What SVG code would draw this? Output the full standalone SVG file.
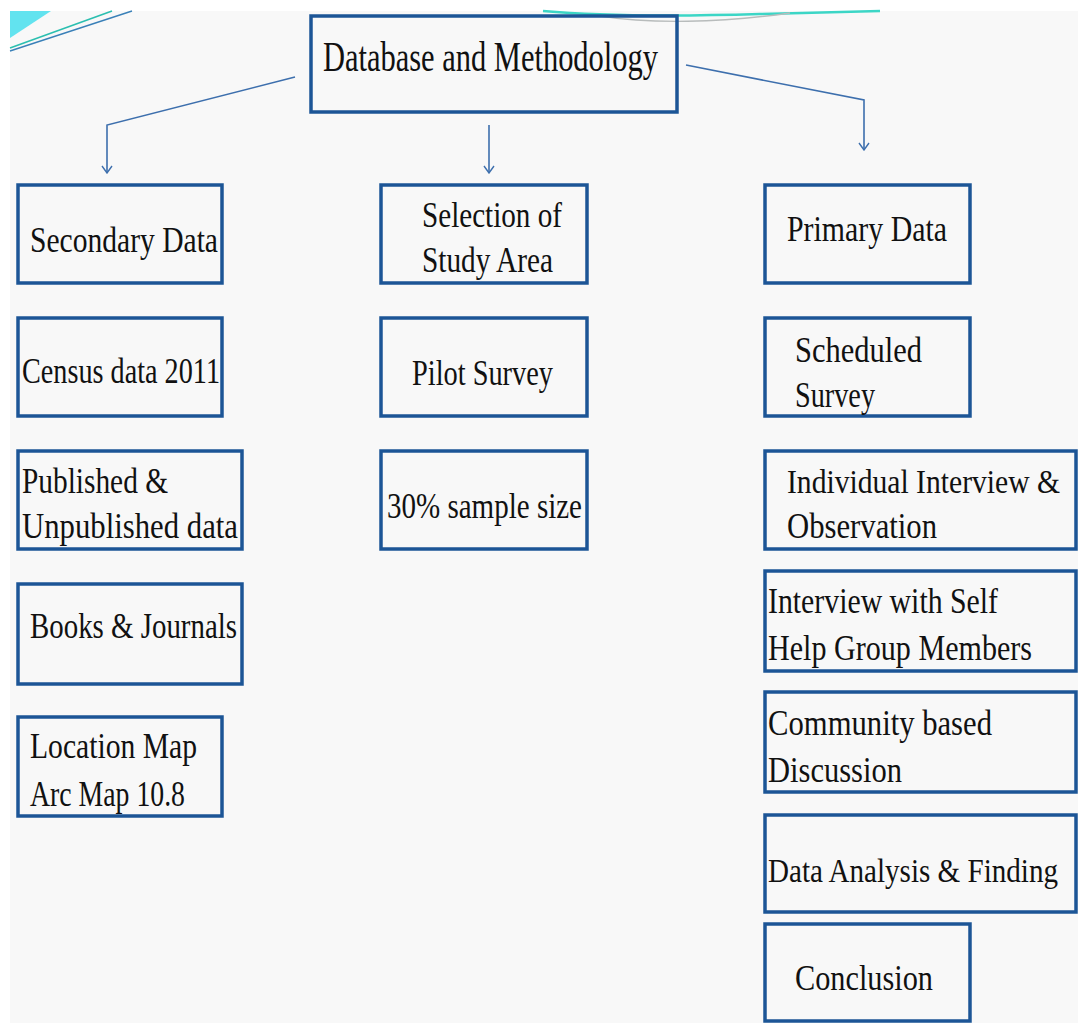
<svg xmlns="http://www.w3.org/2000/svg" width="1078" height="1023" viewBox="0 0 1078 1023">
<style>
.box{fill:none;stroke:#1c5596;stroke-width:3.5}
.t{font-family:"Liberation Serif",serif;font-size:35px;fill:#111}
.title{font-size:42px}
.sm{font-size:30px}
.conn{fill:none;stroke:#3d6fad;stroke-width:1.6}
</style>
<defs>
<marker id="arr" viewBox="0 0 12 12" refX="11" refY="6" markerWidth="12" markerHeight="12" markerUnits="userSpaceOnUse" orient="auto">
<path d="M4,1 L11,6 L4,11" fill="none" stroke="#3d6fad" stroke-width="1.4"/>
</marker>
</defs>
<rect x="0" y="0" width="1078" height="1023" fill="#ffffff"/>
<rect x="10" y="11" width="1068" height="1012" fill="#f8f8f8"/>
<g id="decor">
<polygon points="10,11 51,11 10,38" fill="#62e3ef"/>
<path d="M10,48 L112,11" stroke="#2bbfb0" stroke-width="1.6" fill="none"/>
<path d="M10,51 L132,11" stroke="#3a80b8" stroke-width="1.4" fill="none"/>
<path d="M543,11 C600,16 660,17 760,14 C800,13 850,12 880,11" stroke="#3cd6c6" stroke-width="2.5" fill="none"/>
<path d="M600,16 C650,24 720,23 790,13" stroke="#b8bcbc" stroke-width="1.4" fill="none"/>
</g>
<g id="connectors">
<polyline class="conn" points="295,77 107,125 107,173" marker-end="url(#arr)"/>
<line class="conn" x1="489" y1="125" x2="489" y2="173" marker-end="url(#arr)"/>
<polyline class="conn" points="686,65 864,100 864,150" marker-end="url(#arr)"/>
</g>
<g id="n-title"><rect class="box" x="311" y="16" width="366" height="96"/><text class="t title" x="323" y="71" textLength="335" lengthAdjust="spacingAndGlyphs">Database and Methodology</text></g>
<g id="n-secondary"><rect class="box" x="18" y="185" width="204" height="98"/><text class="t" x="30" y="252" textLength="188" lengthAdjust="spacingAndGlyphs">Secondary Data</text></g>
<g id="n-selection"><rect class="box" x="381" y="185" width="206" height="98"/><text class="t" x="422" y="227" textLength="140" lengthAdjust="spacingAndGlyphs">Selection of</text><text class="t" x="422" y="272" textLength="131" lengthAdjust="spacingAndGlyphs">Study Area</text></g>
<g id="n-primary"><rect class="box" x="765" y="185" width="205" height="98"/><text class="t" x="787" y="241" textLength="160" lengthAdjust="spacingAndGlyphs">Primary Data</text></g>
<g id="n-census"><rect class="box" x="18" y="318" width="204" height="98"/><text class="t" x="22" y="383" textLength="198" lengthAdjust="spacingAndGlyphs">Census data 2011</text></g>
<g id="n-pilot"><rect class="box" x="381" y="318" width="206" height="98"/><text class="t" x="412" y="385" textLength="141" lengthAdjust="spacingAndGlyphs">Pilot Survey</text></g>
<g id="n-scheduled"><rect class="box" x="765" y="318" width="205" height="98"/><text class="t" x="795" y="362" textLength="127" lengthAdjust="spacingAndGlyphs">Scheduled</text><text class="t" x="795" y="407" textLength="80" lengthAdjust="spacingAndGlyphs">Survey</text></g>
<g id="n-published"><rect class="box" x="18" y="451" width="224" height="98"/><text class="t" x="22" y="493" textLength="146" lengthAdjust="spacingAndGlyphs">Published &amp;</text><text class="t" x="22" y="538" textLength="216" lengthAdjust="spacingAndGlyphs">Unpublished data</text></g>
<g id="n-sample"><rect class="box" x="381" y="451" width="206" height="98"/><text class="t" x="387" y="518" textLength="195" lengthAdjust="spacingAndGlyphs">30% sample size</text></g>
<g id="n-individual"><rect class="box" x="765" y="451" width="311" height="98"/><text class="t sm" x="787" y="493" textLength="273" lengthAdjust="spacingAndGlyphs" transform="translate(0,493) scale(1,1.15) translate(0,-493)">Individual Interview &amp;</text><text class="t" x="787" y="538" textLength="150" lengthAdjust="spacingAndGlyphs">Observation</text></g>
<g id="n-books"><rect class="box" x="18" y="584" width="224" height="100"/><text class="t" x="30" y="638" textLength="207" lengthAdjust="spacingAndGlyphs">Books &amp; Journals</text></g>
<g id="n-shg"><rect class="box" x="765" y="571" width="311" height="100"/><text class="t" x="768" y="613" textLength="230" lengthAdjust="spacingAndGlyphs">Interview with Self</text><text class="t" x="768" y="660" textLength="264" lengthAdjust="spacingAndGlyphs">Help Group Members</text></g>
<g id="n-location"><rect class="box" x="18" y="717" width="204" height="99"/><text class="t" x="30" y="758" textLength="167" lengthAdjust="spacingAndGlyphs">Location Map</text><text class="t" x="30" y="806" textLength="155" lengthAdjust="spacingAndGlyphs">Arc Map 10.8</text></g>
<g id="n-community"><rect class="box" x="765" y="692" width="311" height="100"/><text class="t" x="768" y="735" textLength="224" lengthAdjust="spacingAndGlyphs">Community based</text><text class="t" x="768" y="782" textLength="134" lengthAdjust="spacingAndGlyphs">Discussion</text></g>
<g id="n-analysis"><rect class="box" x="765" y="815" width="311" height="97"/><text class="t sm" x="768" y="882" textLength="290" lengthAdjust="spacingAndGlyphs" transform="translate(0,882) scale(1,1.15) translate(0,-882)">Data Analysis &amp; Finding</text></g>
<g id="n-conclusion"><rect class="box" x="765" y="924" width="205" height="97"/><text class="t" x="795" y="990" textLength="138" lengthAdjust="spacingAndGlyphs">Conclusion</text></g>
</svg>
